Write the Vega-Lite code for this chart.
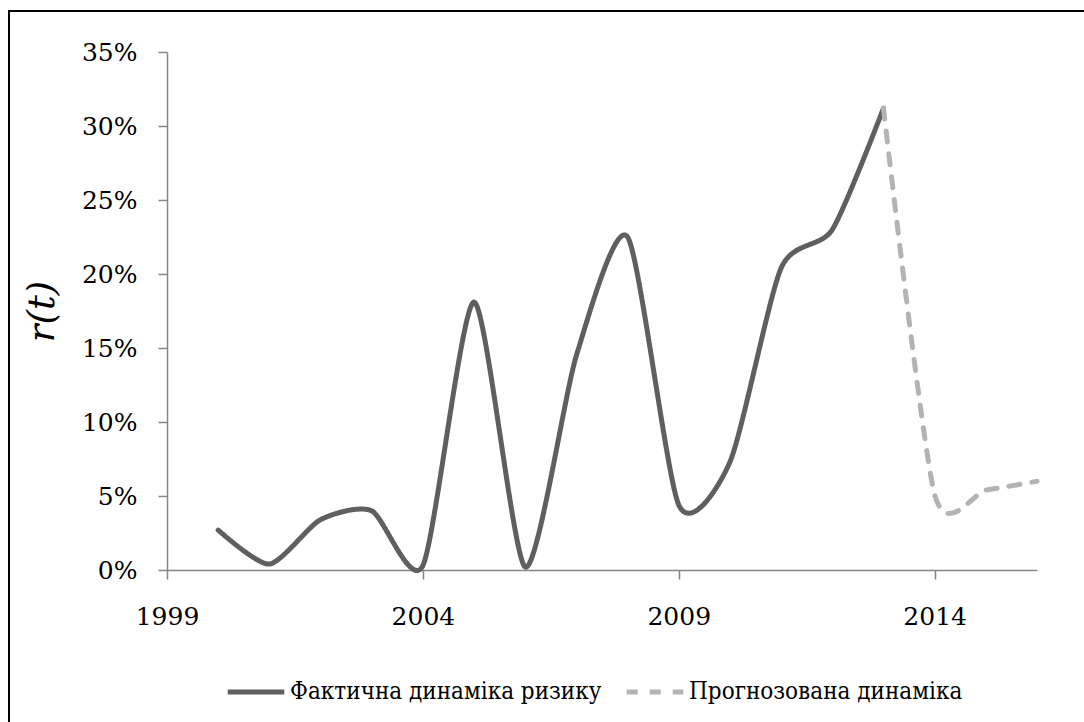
{
  "$schema": "https://vega.github.io/schema/vega-lite/v6.json",
  "width": 1090,
  "height": 720,
  "autosize": {"type": "none"},
  "padding": {"left": 9, "top": 11, "right": 0, "bottom": 0},
  "background": "white",
  "config": {
    "view": {"stroke": "black", "strokeWidth": 2},
    "font": "DejaVu Serif"
  },
  "data": {
    "values": [
      {"year": 2000, "r": 0.027, "series": "Фактична динаміка ризику"},
      {"year": 2001, "r": 0.004, "series": "Фактична динаміка ризику"},
      {"year": 2002, "r": 0.034, "series": "Фактична динаміка ризику"},
      {"year": 2003, "r": 0.040, "series": "Фактична динаміка ризику"},
      {"year": 2004, "r": 0.003, "series": "Фактична динаміка ризику"},
      {"year": 2005, "r": 0.181, "series": "Фактична динаміка ризику"},
      {"year": 2006, "r": 0.002, "series": "Фактична динаміка ризику"},
      {"year": 2007, "r": 0.145, "series": "Фактична динаміка ризику"},
      {"year": 2008, "r": 0.225, "series": "Фактична динаміка ризику"},
      {"year": 2009, "r": 0.044, "series": "Фактична динаміка ризику"},
      {"year": 2010, "r": 0.073, "series": "Фактична динаміка ризику"},
      {"year": 2011, "r": 0.204, "series": "Фактична динаміка ризику"},
      {"year": 2012, "r": 0.230, "series": "Фактична динаміка ризику"},
      {"year": 2013, "r": 0.312, "series": "Фактична динаміка ризику"},
      {"year": 2013, "r": 0.312, "series": "Прогнозована динаміка"},
      {"year": 2014, "r": 0.051, "series": "Прогнозована динаміка"},
      {"year": 2015, "r": 0.054, "series": "Прогнозована динаміка"},
      {"year": 2016, "r": 0.060, "series": "Прогнозована динаміка"}
    ]
  },
  "mark": {"type": "line", "interpolate": "cardinal", "tension": 0.3, "strokeWidth": 5, "strokeCap": "round", "clip": false},
  "encoding": {
    "x": {
      "field": "year",
      "type": "quantitative",
      "scale": {"domain": [1999, 2016], "range": [158, 1028], "nice": false, "zero": false},
      "axis": {
        "orient": "bottom",
        "offset": -161,
        "values": [1999, 2004, 2009, 2014],
        "format": "d",
        "title": null,
        "grid": false,
        "domainColor": "#868686",
        "domainWidth": 1.5,
        "tickColor": "#868686",
        "tickWidth": 1.5,
        "tickSize": 9,
        "labelFont": "DejaVu Serif",
        "labelFontSize": 25,
        "labelColor": "black",
        "labelPadding": 25,
        "labelFlush": false
      }
    },
    "y": {
      "field": "r",
      "type": "quantitative",
      "scale": {"domain": [0, 0.35], "range": [559, 41], "nice": false, "zero": false},
      "axis": {
        "orient": "left",
        "offset": -158,
        "values": [0, 0.05, 0.1, 0.15, 0.2, 0.25, 0.3, 0.35],
        "format": ".0%",
        "title": "r(t)",
        "titleFont": "DejaVu Serif",
        "titleFontSize": 37,
        "titleFontStyle": "italic",
        "titleFontWeight": "normal",
        "titleColor": "black",
        "titlePadding": 20,
        "grid": false,
        "domainColor": "#868686",
        "domainWidth": 1.5,
        "tickColor": "#868686",
        "tickWidth": 1.5,
        "tickSize": 9,
        "labelFont": "DejaVu Serif",
        "labelFontSize": 25,
        "labelColor": "black",
        "labelPadding": 21,
        "labelFlush": false
      }
    },
    "color": {
      "field": "series",
      "type": "nominal",
      "scale": {"domain": ["Фактична динаміка ризику", "Прогнозована динаміка"], "range": ["#5f5f5f", "#b3b3b3"]},
      "legend": {
        "title": null,
        "orient": "none",
        "direction": "horizontal",
        "legendX": 216,
        "legendY": 650,
        "symbolType": "stroke",
        "symbolSize": 3200,
        "symbolStrokeWidth": 5,
        "labelFont": "DejaVu Serif Condensed",
        "labelFontSize": 24,
        "labelColor": "black",
        "labelOffset": 3,
        "columnPadding": 14,
        "labelLimit": 500
      }
    },
    "strokeDash": {
      "field": "series",
      "type": "nominal",
      "scale": {"domain": ["Фактична динаміка ризику", "Прогнозована динаміка"], "range": [[1, 0], [11, 12]]},
      "legend": null
    }
  }
}
